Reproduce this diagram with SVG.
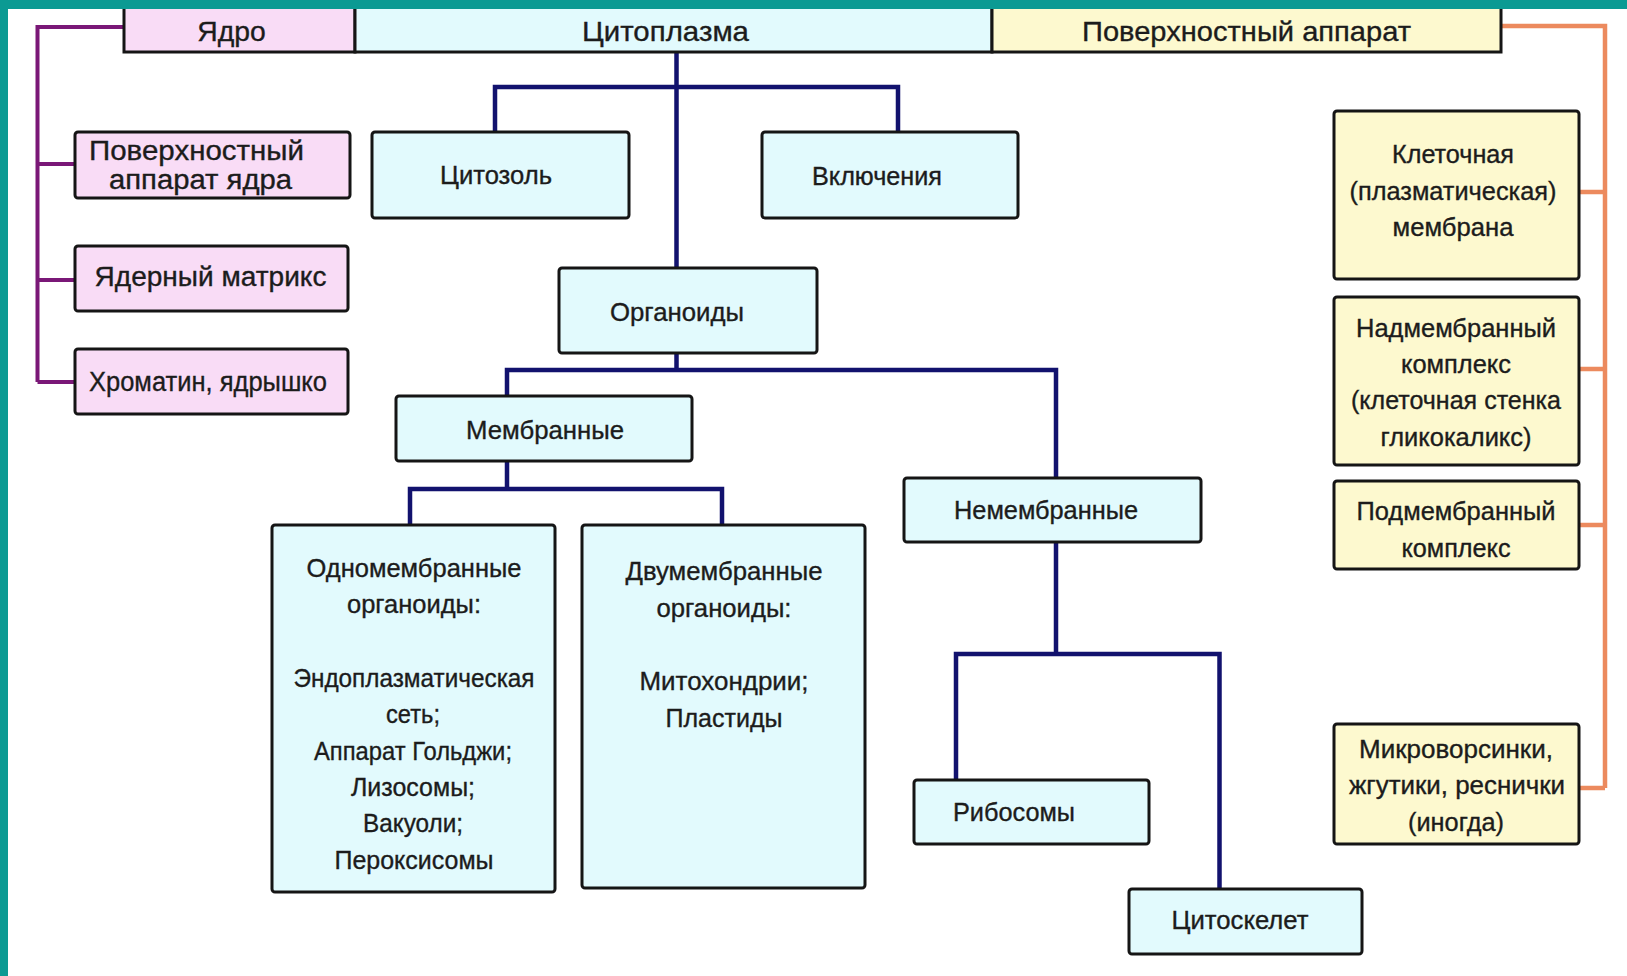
<svg xmlns="http://www.w3.org/2000/svg" width="1627" height="976" viewBox="0 0 1627 976">
<style>
  .box { stroke: #151515; stroke-width: 3; }
  .pink { fill: #f9dcf6; }
  .cyan { fill: #e2fafd; }
  .yellow { fill: #fdf9cf; }
  text { font-family: "Liberation Sans", Arial, sans-serif; fill: #1c1c1c; stroke: #1c1c1c; stroke-width: 0.35; text-anchor: middle; }
  .t25 { font-size: 25px; }
  .t27 { font-size: 27px; }
  .t28 { font-size: 28px; }
  .purple { stroke: #7a1877; stroke-width: 4; fill: none; }
  .navy { stroke: #12126e; stroke-width: 4.5; fill: none; }
  .orange { stroke: #ec8a5e; stroke-width: 4.5; fill: none; }
</style>
<rect x="0" y="0" width="1627" height="976" fill="#ffffff"/>

<g id="connectors">
  <path class="purple" d="M124 27 H37.5 V382 M37.5 164 H75 M37.5 280 H75 M37.5 382 H75"/>
  <path class="orange" d="M1501 26 H1605 V788 M1605 192 H1579 M1605 369 H1579 M1605 525 H1579 M1605 788 H1579"/>
  <path class="navy" d="M676.5 50 V268 M495 132 V87 H898 V132"/>
  <path class="navy" d="M676.5 353 V370 M507 396 V370 H1056 V478"/>
  <path class="navy" d="M507 461 V489 M410 525 V489 H722 V525"/>
  <path class="navy" d="M1056 542 V654 M956 780 V654 H1219.5 V889"/>
</g>

<g id="top-bar">
  <g id="node-yadro">
    <rect class="box pink" x="124" y="-4" width="231" height="56"/>
    <text class="t28" x="231.5" y="41" textLength="68.5" lengthAdjust="spacingAndGlyphs">Ядро</text>
  </g>
  <g id="node-cytoplasm">
    <rect class="box cyan" x="355" y="-4" width="637" height="56"/>
    <text class="t28" x="665.5" y="41" textLength="167" lengthAdjust="spacingAndGlyphs">Цитоплазма</text>
  </g>
  <g id="node-surface">
    <rect class="box yellow" x="992" y="-4" width="509" height="56"/>
    <text class="t28" x="1246.5" y="41" textLength="329" lengthAdjust="spacingAndGlyphs">Поверхностный аппарат</text>
  </g>
</g>

<g id="node-nuc-surface">
  <rect class="box pink" x="75" y="132" width="275" height="66" rx="3"/>
  <text class="t27" x="196.5" y="160" textLength="215" lengthAdjust="spacingAndGlyphs">Поверхностный</text>
  <text class="t27" x="200.5" y="189" textLength="183" lengthAdjust="spacingAndGlyphs">аппарат ядра</text>
</g>
<g id="node-nuc-matrix">
  <rect class="box pink" x="75" y="246" width="273" height="65" rx="3"/>
  <text class="t27" x="210.5" y="286" textLength="232" lengthAdjust="spacingAndGlyphs">Ядерный матрикс</text>
</g>
<g id="node-chromatin">
  <rect class="box pink" x="75" y="349" width="273" height="65" rx="3"/>
  <text class="t27" x="208" y="391" textLength="238" lengthAdjust="spacingAndGlyphs">Хроматин, ядрышко</text>
</g>

<g id="node-cytosol">
  <rect class="box cyan" x="372" y="132" width="257" height="86" rx="3"/>
  <text class="t25" x="496" y="184" textLength="112" lengthAdjust="spacingAndGlyphs">Цитозоль</text>
</g>
<g id="node-inclusions">
  <rect class="box cyan" x="762" y="132" width="256" height="86" rx="3"/>
  <text class="t25" x="877" y="185" textLength="130" lengthAdjust="spacingAndGlyphs">Включения</text>
</g>
<g id="node-organoids">
  <rect class="box cyan" x="559" y="268" width="258" height="85" rx="3"/>
  <text class="t25" x="677" y="321" textLength="134" lengthAdjust="spacingAndGlyphs">Органоиды</text>
</g>
<g id="node-membrane">
  <rect class="box cyan" x="396" y="396" width="296" height="65" rx="3"/>
  <text class="t25" x="545" y="439" textLength="158" lengthAdjust="spacingAndGlyphs">Мембранные</text>
</g>
<g id="node-nonmembrane">
  <rect class="box cyan" x="904" y="478" width="297" height="64" rx="3"/>
  <text class="t25" x="1046" y="519" textLength="184" lengthAdjust="spacingAndGlyphs">Немембранные</text>
</g>
<g id="node-single">
  <rect class="box cyan" x="272" y="525" width="283" height="367" rx="3"/>
  <text class="t25" x="414" y="577" textLength="215" lengthAdjust="spacingAndGlyphs">Одномембранные</text>
  <text class="t25" x="414" y="613" textLength="134" lengthAdjust="spacingAndGlyphs">органоиды:</text>
  <text class="t25" x="414" y="687" textLength="241" lengthAdjust="spacingAndGlyphs">Эндоплазматическая</text>
  <text class="t25" x="413" y="723" textLength="54" lengthAdjust="spacingAndGlyphs">сеть;</text>
  <text class="t25" x="413" y="760" textLength="198" lengthAdjust="spacingAndGlyphs">Аппарат Гольджи;</text>
  <text class="t25" x="413" y="796" textLength="124" lengthAdjust="spacingAndGlyphs">Лизосомы;</text>
  <text class="t25" x="413" y="832" textLength="100" lengthAdjust="spacingAndGlyphs">Вакуоли;</text>
  <text class="t25" x="414" y="869" textLength="159" lengthAdjust="spacingAndGlyphs">Пероксисомы</text>
</g>
<g id="node-double">
  <rect class="box cyan" x="582" y="525" width="283" height="363" rx="3"/>
  <text class="t25" x="724" y="580" textLength="197" lengthAdjust="spacingAndGlyphs">Двумембранные</text>
  <text class="t25" x="724" y="617" textLength="135" lengthAdjust="spacingAndGlyphs">органоиды:</text>
  <text class="t25" x="724" y="690" textLength="169" lengthAdjust="spacingAndGlyphs">Митохондрии;</text>
  <text class="t25" x="724" y="727" textLength="117" lengthAdjust="spacingAndGlyphs">Пластиды</text>
</g>
<g id="node-ribosomes">
  <rect class="box cyan" x="914" y="780" width="235" height="64" rx="3"/>
  <text class="t25" x="1014" y="821" textLength="122" lengthAdjust="spacingAndGlyphs">Рибосомы</text>
</g>
<g id="node-cytoskeleton">
  <rect class="box cyan" x="1129" y="889" width="233" height="65" rx="3"/>
  <text class="t25" x="1240" y="929" textLength="137" lengthAdjust="spacingAndGlyphs">Цитоскелет</text>
</g>

<g id="node-cell-membrane">
  <rect class="box yellow" x="1334" y="111" width="245" height="168" rx="3"/>
  <text class="t25" x="1453" y="163" textLength="122" lengthAdjust="spacingAndGlyphs">Клеточная</text>
  <text class="t25" x="1453" y="200" textLength="207" lengthAdjust="spacingAndGlyphs">(плазматическая)</text>
  <text class="t25" x="1453" y="236" textLength="121" lengthAdjust="spacingAndGlyphs">мембрана</text>
</g>
<g id="node-supramembrane">
  <rect class="box yellow" x="1334" y="297" width="245" height="168" rx="3"/>
  <text class="t25" x="1456" y="337" textLength="200" lengthAdjust="spacingAndGlyphs">Надмембранный</text>
  <text class="t25" x="1456" y="373" textLength="110" lengthAdjust="spacingAndGlyphs">комплекс</text>
  <text class="t25" x="1456" y="409" textLength="210" lengthAdjust="spacingAndGlyphs">(клеточная стенка</text>
  <text class="t25" x="1456" y="446" textLength="151" lengthAdjust="spacingAndGlyphs">гликокаликс)</text>
</g>
<g id="node-submembrane">
  <rect class="box yellow" x="1334" y="481" width="245" height="88" rx="3"/>
  <text class="t25" x="1456" y="520" textLength="199" lengthAdjust="spacingAndGlyphs">Подмембранный</text>
  <text class="t25" x="1456" y="557" textLength="109" lengthAdjust="spacingAndGlyphs">комплекс</text>
</g>
<g id="node-microvilli">
  <rect class="box yellow" x="1334" y="724" width="245" height="120" rx="3"/>
  <text class="t25" x="1456" y="758" textLength="194" lengthAdjust="spacingAndGlyphs">Микроворсинки,</text>
  <text class="t25" x="1457" y="794" textLength="216" lengthAdjust="spacingAndGlyphs">жгутики, реснички</text>
  <text class="t25" x="1456" y="831" textLength="96" lengthAdjust="spacingAndGlyphs">(иногда)</text>
</g>

<g id="frame">
  <rect x="0" y="0" width="1627" height="9" fill="#0b9a93"/>
  <rect x="0" y="0" width="8" height="976" fill="#0b9a93"/>
</g>
</svg>
